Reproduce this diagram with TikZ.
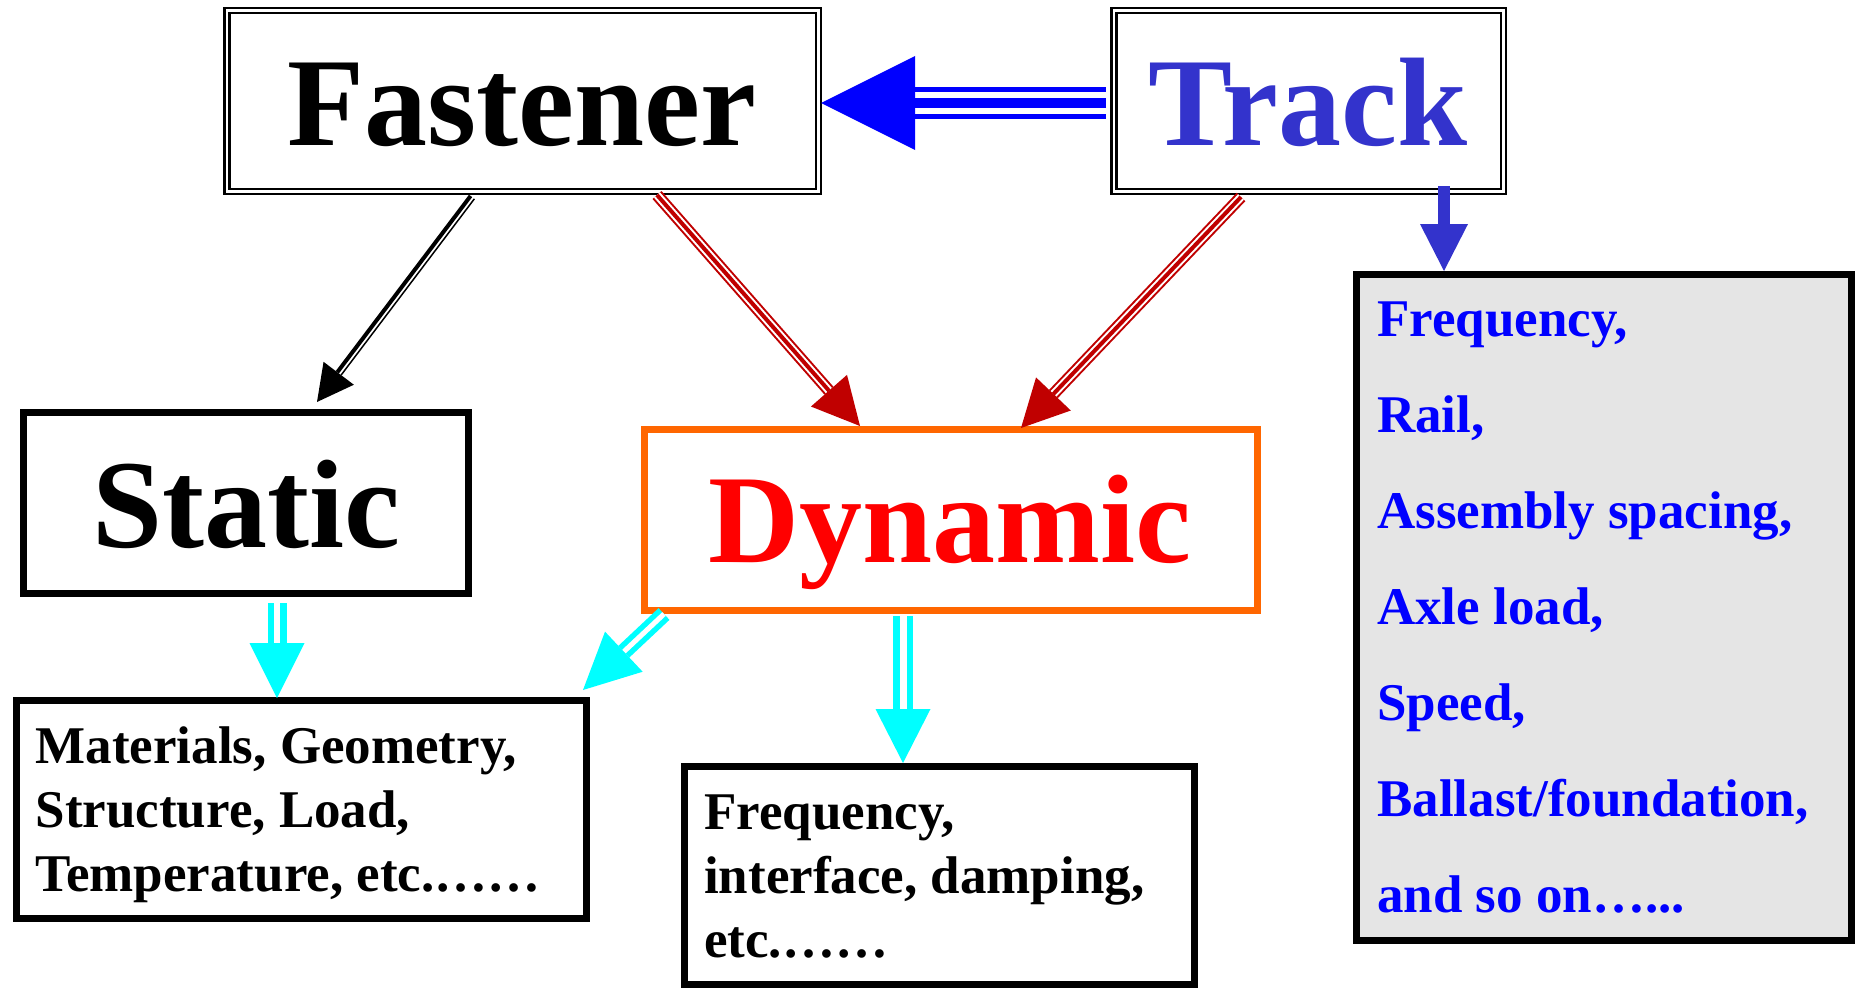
\documentclass[tikz,border=0pt]{standalone}
\usepackage{fontspec}
\setmainfont{Liberation Serif}
\usetikzlibrary{calc}
\definecolor{trackblue}{HTML}{3333CC}
\definecolor{listblue}{HTML}{0000FF}
\definecolor{arrowblue}{HTML}{0000FF}
\definecolor{darkred}{HTML}{C00000}
\definecolor{dynorange}{HTML}{FF6600}
\definecolor{cyanarrow}{HTML}{00FFFF}
\definecolor{listgray}{HTML}{E5E5E5}
\newcommand\ttlfont{\fontsize{126}{126}\selectfont\bfseries}
\newcommand\smfont{\fontsize{53}{64}\selectfont\bfseries}
% #1 colour, #2 from, #3 tip, #4 head length, #5 half width, #6 total, #7 white, #8 centre
\newcommand\triplearrow[8]{%
  \coordinate (hb) at ($(#3)!#4!(#2)$);
  \draw[#1, line width=#6] (#2) -- (hb);
  \draw[white, line width=#7] (#2) -- (hb);
  \draw[#1, line width=#8] (#2) -- (hb);
  \fill[#1] (#3) -- ($(hb)!#5!90:(#3)$) -- ($(hb)!#5!-90:(#3)$) -- cycle;}
% #1 colour, #2 from, #3 tip, #4 head length, #5 half width, #6 total, #7 white
\newcommand\doublearrow[7]{%
  \coordinate (hb) at ($(#3)!#4!(#2)$);
  \draw[#1, line width=#6] (#2) -- (hb);
  \draw[white, line width=#7] (#2) -- (hb);
  \fill[#1] (#3) -- ($(hb)!#5!90:(#3)$) -- ($(hb)!#5!-90:(#3)$) -- cycle;}
% #1 colour, #2 from, #3 tip, #4 head length, #5 half width, #6 shaft width
\newcommand\solidarrow[6]{%
  \coordinate (hb) at ($(#3)!#4!(#2)$);
  \draw[#1, line width=#6] (#2) -- (hb);
  \fill[#1] (#3) -- ($(hb)!#5!90:(#3)$) -- ($(hb)!#5!-90:(#3)$) -- cycle;}
% thick-thin compound arrow
\newcommand\thickthinarrow[5]{%
  \coordinate (hb) at ($(#3)!#4!(#2)$);
  \draw[#1, line width=4pt] ($(#2)!1.75pt!-90:(hb)$) -- ($(hb)!1.75pt!90:(#2)$);
  \draw[#1, line width=1.5pt] ($(#2)!3pt!90:(hb)$) -- ($(hb)!3pt!-90:(#2)$);
  \fill[#1] (#3) -- ($(hb)!#5!90:(#3)$) -- ($(hb)!#5!-90:(#3)$) -- cycle;}
\begin{document}
\begin{tikzpicture}[x=1pt,y=-1pt,
  dbox/.style={draw=black, line width=2.5pt, double=white, double distance=2.5pt,
    rectangle, inner sep=0pt, outer sep=0pt, anchor=north west},
  sbox/.style={draw=black, line width=7pt, rectangle, inner sep=0pt, outer sep=0pt,
    anchor=north west},
  title/.style={anchor=base, inner sep=0pt, font=\ttlfont},
  item/.style={anchor=base west, inner sep=0pt, font=\smfont}]
\useasboundingbox (0,0) rectangle (1856,990);
\fill[white] (0,0) rectangle (1856,990);

% boxes
\node[dbox, minimum width=591.5pt, minimum height=180.5pt] (fast) at (226.75,10.75) {};
\node[dbox, minimum width=389.5pt, minimum height=180.5pt] (track) at (1113.75,10.75) {};
\node[sbox, minimum width=445pt, minimum height=181pt] (static) at (23.5,412.5) {};
\node[sbox, draw=dynorange, minimum width=613pt, minimum height=181pt] (dyn) at (644.5,429.5) {};
\node[sbox, minimum width=570pt, minimum height=218pt] (statdet) at (16.5,700.5) {};
\node[sbox, minimum width=510pt, minimum height=218pt] (dyndet) at (684.5,766.5) {};
\node[sbox, fill=listgray, minimum width=495pt, minimum height=666pt] (tracklist) at (1356.5,274.5) {};

% titles
\node[title] (fastT) at (522,145) {Fastener};
\node[title, text=trackblue] (trackT) at (1308,145) {Track};
\node[title] (staticT) at (246,547) {Static};
\node[title, text=red] (dynT) at (950,562) {Dynamic};

% static details
\node[item] (s1) at (35.5,763) {Materials, Geometry,};
\node[item] (s2) at (35.5,827) {Structure, Load,};
\node[item] (s3) at (35.5,891) {Temperature, etc.……};

% dynamic details
\node[item] (d1) at (704,829) {Frequency,};
\node[item] (d2) at (704,893) {interface, damping,};
\node[item] (d3) at (704,957) {etc.……};

% track list
\node[item, text=listblue] (t1) at (1377,336) {Frequency,};
\node[item, text=listblue] (t2) at (1377,432) {Rail,};
\node[item, text=listblue] (t3) at (1377,528) {Assembly spacing,};
\node[item, text=listblue] (t4) at (1377,624) {Axle load,};
\node[item, text=listblue] (t5) at (1377,720) {Speed,};
\node[item, text=listblue] (t6) at (1377,816) {Ballast/foundation,};
\node[item, text=listblue] (t7) at (1377,912) {and so on…...};

% connector end points
\coordinate (tfS) at (1106,103); \coordinate (tfT) at (821,103);
\coordinate (fsS) at (472,197);  \coordinate (fsT) at (317,402);
\coordinate (fdS) at (657,195);  \coordinate (fdT) at (860,426);
\coordinate (tdS) at (1241,197); \coordinate (tdT) at (1021,428);
\coordinate (tlS) at (1444,186); \coordinate (tlT) at (1444,271);
\coordinate (smS) at (277,603);  \coordinate (smT) at (277,698);
\coordinate (dmS) at (664,614);  \coordinate (dmT) at (583,690);
\coordinate (ddS) at (903,616);  \coordinate (ddT) at (903,763);

% connectors
\triplearrow{arrowblue}{tfS}{tfT}{94pt}{47pt}{31pt}{21pt}{10pt}
\thickthinarrow{black}{fsS}{fsT}{36pt}{19pt}
\triplearrow{darkred}{fdS}{fdT}{47pt}{24pt}{12pt}{8pt}{4pt}
\triplearrow{darkred}{tdS}{tdT}{47pt}{24pt}{12pt}{8pt}{4pt}
\solidarrow{trackblue}{tlS}{tlT}{47pt}{24pt}{12.5pt}
\doublearrow{cyanarrow}{smS}{smT}{55pt}{27.5pt}{19pt}{6pt}
\doublearrow{cyanarrow}{dmS}{dmT}{56pt}{27.5pt}{16pt}{5pt}
\doublearrow{cyanarrow}{ddS}{ddT}{54pt}{27.5pt}{20pt}{7pt}
\end{tikzpicture}
\end{document}
